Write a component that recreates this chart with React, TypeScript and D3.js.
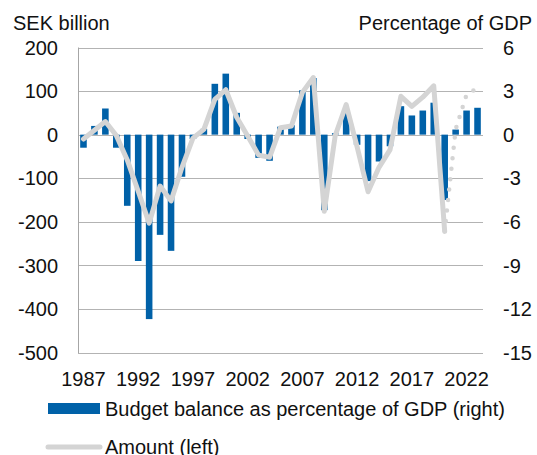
import * as d3 from "d3";
import { useEffect, useRef } from "react";

const years = d3.range(1987, 2024).map(String);

// budget balance, % of GDP (right axis)
const balancePct = [
    -0.9, 0.6, 1.8, -0.9, -4.9, -8.7, -12.7, -6.9, -8.0, -2.9,
    -0.3, 0.4, 3.5, 4.2, 1.5, -0.3, -1.6, -1.8, 0.55, 0.65,
    3.05, 3.9, -5.2, 0.1, 1.5, -0.7, -3.2, -1.85, -0.8, 1.96,
    1.32, 1.66, 2.2, -4.5, 0.35, 1.66, 1.85
];

// amount, SEK billion (left axis), outcome years
const amountYears = d3.range(1987, 2021).map(String);
const amount = [
    -10, 10, 30, -2, -58, -130, -203, -118, -152, -75,
    -8, 12, 81, 103, 40, -3, -47, -52, 16, 20,
    97, 131, -176, -2, 69, -28, -131, -75, -35, 88,
    65, 86, 112, -222
];

// forecast part of the amount line (dotted)
const forecastYears = ["2020", "2021", "2022", "2023"];
const forecast = [-222, 12, 92, 107];

const leftTicks = [200, 100, 0, -100, -200, -300, -400, -500];
const rightTicks = [6, 3, 0, -3, -6, -9, -12, -15];
const xLabels = ["1987", "1992", "1997", "2002", "2007", "2012", "2017", "2022"];

const font = "'Liberation Sans', Arial, Helvetica, sans-serif";
const blue = "#0061a8";
const grey = "#d4d4d4";

export default function App() {
    const svgRef = useRef(null);

    useEffect(() => {
        const svg = d3.select(svgRef.current);
        svg.selectAll("*").remove();

        const left = 78, right = 483, top = 47.5, bottom = 352.5;

        const x = d3.scaleBand<string>().domain(years).range([left, right])
            .paddingInner(0.4).paddingOuter(0.2);
        const cx = (y: string) => (x(y) as number) + x.bandwidth() / 2;
        const yL = d3.scaleLinear().domain([-500, 200]).range([bottom, top]);
        const yR = d3.scaleLinear().domain([-15, 6]).range([bottom, top]);

        const g = svg.append("g");

        // gridlines
        g.selectAll(".grid").data(leftTicks).join("line")
            .attr("x1", left).attr("x2", right)
            .attr("y1", d => Math.round(yL(d)) + 0.5).attr("y2", d => Math.round(yL(d)) + 0.5)
            .attr("stroke", "#b3b3b3").attr("stroke-width", 1);

        g.append("line")
            .attr("x1", left + 0.5).attr("x2", left + 0.5)
            .attr("y1", top).attr("y2", bottom + 0.5)
            .attr("stroke", "#a6a6a6").attr("stroke-width", 1);

        // bars
        g.selectAll(".bar").data(balancePct).join("rect")
            .attr("x", (d, i) => x(years[i]) as number)
            .attr("width", x.bandwidth())
            .attr("y", d => Math.min(yR(d), yR(0)))
            .attr("height", d => Math.abs(yR(d) - yR(0)))
            .attr("fill", blue);

        // amount line
        const line = d3.line<number>()
            .x((d, i) => cx(amountYears[i]))
            .y(d => yL(d));
        g.append("path")
            .attr("d", line(amount))
            .attr("fill", "none")
            .attr("stroke", grey)
            .attr("stroke-width", 5)
            .attr("stroke-linejoin", "round")
            .attr("stroke-linecap", "round");

        const fline = d3.line<number>()
            .x((d, i) => cx(forecastYears[i]))
            .y(d => yL(d));
        g.append("path")
            .attr("d", fline(forecast))
            .attr("fill", "none")
            .attr("stroke", grey)
            .attr("stroke-width", 4.5)
            .attr("stroke-dasharray", "0 10.5")
            .attr("stroke-dashoffset", -10.5)
            .attr("stroke-linecap", "round");

        const text = (sel: any) => sel
            .style("font-family", font)
            .style("font-size", "20px")
            .attr("fill", "#111");

        // left axis labels
        g.selectAll(".lt").data(leftTicks).join("text")
            .call(text)
            .attr("x", 58).attr("y", d => yL(d))
            .attr("dy", "0.36em")
            .attr("text-anchor", "end")
            .text(d => String(d));

        // right axis labels
        g.selectAll(".rt").data(rightTicks).join("text")
            .call(text)
            .attr("x", 503).attr("y", d => yR(d))
            .attr("dy", "0.36em")
            .text(d => String(d));

        // x labels
        g.selectAll(".xt").data(xLabels).join("text")
            .call(text)
            .attr("x", d => cx(d)).attr("y", 386)
            .attr("text-anchor", "middle")
            .text(d => d);

        // axis titles
        g.append("text").call(text).attr("x", 13).attr("y", 30).text("SEK billion");
        g.append("text").call(text).attr("x", 532).attr("y", 30)
            .attr("text-anchor", "end").text("Percentage of GDP");

        // legend
        g.append("rect").attr("x", 48).attr("y", 403).attr("width", 52).attr("height", 11)
            .attr("fill", blue);
        g.append("text").call(text).attr("x", 105).attr("y", 416)
            .text("Budget balance as percentage of GDP (right)");
        g.append("line").attr("x1", 48).attr("x2", 100).attr("y1", 447).attr("y2", 447)
            .attr("stroke", grey).attr("stroke-width", 5).attr("stroke-linecap", "round");
        g.append("text").call(text).attr("x", 105).attr("y", 454)
            .text("Amount (left)");
    }, []);

    return (
        <svg ref={svgRef} width={537} height={455}
            style={{ position: "absolute", left: 0, top: 0, background: "#fff" }} />
    );
}
